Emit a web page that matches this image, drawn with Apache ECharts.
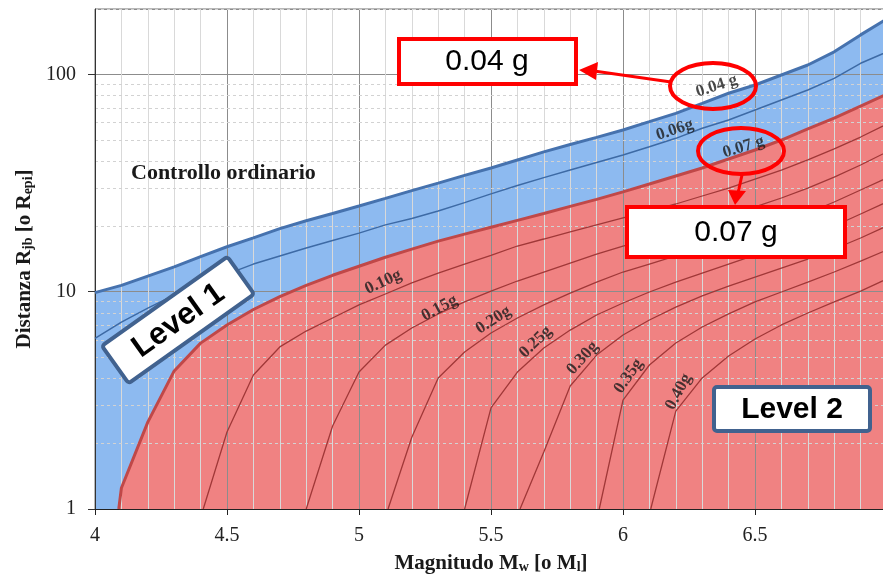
<!DOCTYPE html>
<html><head><meta charset="utf-8">
<script src="https://cdn.jsdelivr.net/npm/echarts@6/dist/echarts.min.js"></script>
<style>html,body{margin:0;padding:0;background:#fff}#c{width:883px;height:577px}</style>
</head><body><div id="c"></div>
<script>
// ---- data (Magnitudo Mw, Distanza km) ----
const xTicks = [4, 4.5, 5, 5.5, 6, 6.5, 7];
const yTicks = [1, 10, 100];
const yMinorTicks = [2,3,4,5,6,7,8,9,20,30,40,50,60,70,80,90,200];

const line004 = [[4.0,9.9],[4.1,10.7],[4.2,11.8],[4.3,13.0],[4.4,14.5],[4.5,16.1],[4.6,17.7],[4.7,19.5],[4.8,21.2],[4.9,22.9],[5.0,24.8],[5.1,26.9],[5.2,29.2],[5.3,31.6],[5.4,34.3],[5.5,37.1],[5.6,40.4],[5.7,44.0],[5.8,47.6],[5.9,51.3],[6.0,55.5],[6.1,60.6],[6.2,66.2],[6.3,73.6],[6.4,81.9],[6.5,89.4],[6.6,99.4],[6.7,110.5],[6.8,127],[6.9,152],[7.0,180]];
const line006 = [[4.0,6.1],[4.1,7.25],[4.2,8.4],[4.3,9.65],[4.4,10.85],[4.5,12.05],[4.6,13.4],[4.7,14.6],[4.8,15.9],[4.9,17.2],[5.0,18.6],[5.1,20.3],[5.2,21.7],[5.3,23.5],[5.4,25.7],[5.5,28.2],[5.6,30.8],[5.7,33.5],[5.8,36.3],[5.9,39.3],[6.0,42.6],[6.1,46.5],[6.2,50.8],[6.3,56.5],[6.4,61.7],[6.5,68.6],[6.6,76.3],[6.7,84.8],[6.8,95.9],[6.9,112.5],[7.0,127]];
const line007 = [[4.09,1],[4.1,1.25],[4.2,2.51],[4.3,4.32],[4.4,5.8],[4.5,7.03],[4.6,8.28],[4.7,9.5],[4.8,10.7],[4.9,11.9],[5.0,13.1],[5.1,14.4],[5.2,15.7],[5.3,17.1],[5.4,18.4],[5.5,19.8],[5.6,21.3],[5.7,22.9],[5.8,24.7],[5.9,26.6],[6.0,28.8],[6.1,31.3],[6.2,34.1],[6.3,37.1],[6.4,40.8],[6.5,44.9],[6.6,49.9],[6.7,56.1],[6.8,63.0],[6.9,71.5],[7.0,81.3]];
const line010 = [[4.41,1],[4.5,2.26],[4.6,4.14],[4.7,5.57],[4.8,6.59],[4.9,7.57],[5.0,8.69],[5.1,9.76],[5.2,10.97],[5.3,12.19],[5.4,13.41],[5.5,14.7],[5.6,16.23],[5.7,17.48],[5.8,18.83],[5.9,20.28],[6.0,21.84],[6.1,23.51],[6.2,25.33],[6.3,27.57],[6.4,30.0],[6.5,33.0],[6.6,36.3],[6.7,40.4],[6.8,45.4],[6.9,51.5],[7.0,59.1]];
const line015 = [[4.8,1],[4.9,2.41],[5.0,4.27],[5.1,5.68],[5.2,6.81],[5.3,7.9],[5.4,8.97],[5.5,10.07],[5.6,11.2],[5.7,12.32],[5.8,13.55],[5.9,14.91],[6.0,16.23],[6.1,17.48],[6.2,18.83],[6.3,20.49],[6.4,22.31],[6.5,24.54],[6.6,26.99],[6.7,30.0],[6.8,33.7],[6.9,38.3],[7.0,44.0]];
const line020 = [[5.11,1],[5.2,2.14],[5.3,4.01],[5.4,5.28],[5.5,6.46],[5.6,7.57],[5.7,8.69],[5.8,9.86],[5.9,11.08],[6.0,12.32],[6.1,13.41],[6.2,14.6],[6.3,15.89],[6.4,17.29],[6.5,18.83],[6.6,20.71],[6.7,23.02],[6.8,25.87],[6.9,29.38],[7.0,33.37]];
const line025 = [[5.4,1],[5.5,2.92],[5.6,4.27],[5.7,5.51],[5.8,6.66],[5.9,7.81],[6.0,8.87],[6.1,9.97],[6.2,11.08],[6.3,12.19],[6.4,13.41],[6.5,14.75],[6.6,16.23],[6.7,18.05],[6.8,20.06],[6.9,22.79],[7.0,25.87]];
const line030 = [[5.61,1],[5.7,1.83],[5.8,3.68],[5.9,5.11],[6.0,6.32],[6.1,7.41],[6.2,8.5],[6.3,9.56],[6.4,10.62],[6.5,11.68],[6.6,12.85],[6.7,14.14],[6.8,15.72],[6.9,17.67],[7.0,20.06]];
const line035 = [[5.91,1],[6.0,3.17],[6.1,4.6],[6.2,5.81],[6.3,6.88],[6.4,7.9],[6.5,8.97],[6.6,9.97],[6.7,11.08],[6.8,12.32],[6.9,13.84],[7.0,15.56]];
const line040 = [[6.105,1],[6.2,2.82],[6.3,4.01],[6.4,5.06],[6.5,6.06],[6.6,7.03],[6.7,7.98],[6.8,8.97],[6.9,10.07],[7.0,11.44]];

const labelText = ['0.04 g','0.06g','0.07 g','0.10g','0.15g','0.20g','0.25g','0.30g','0.35g','0.40g'];
const labelM    = [6.355, 6.196, 6.457, 5.092, 5.305, 5.509, 5.669, 5.847, 6.021, 6.211];
const labelR    = [88.4, 55.5, 46.3, 11.08, 8.41, 7.41, 5.87, 4.95, 4.09, 3.46];
const labelAngle = [18, 18, 17, 25, 28, 33, 44, 48, 55, 62];

// ---- styles ----
const SERIF = 'Liberation Serif, serif';
const fillBlue = '#8dbaf0', fillRed = '#f08282';
const contourColor = '#a03838';

const chart = echarts.init(document.getElementById('c'), null, {renderer: 'canvas'});

function lineSeries(data, color, width, z) {
  return {type: 'line', data: data, symbol: 'none', silent: true, z: z,
          lineStyle: {color: color, width: width}};
}
function areaSeries(data, color) {
  return {type: 'line', data: data, symbol: 'none', silent: true, z: 1,
          lineStyle: {width: 0, opacity: 0},
          areaStyle: {color: color, opacity: 1, origin: 'start'}};
}

const nameRich = {
  a: {fontFamily: SERIF, fontWeight: 'bold', fontSize: 21, color: '#1a1a1a'},
  s: {fontFamily: SERIF, fontWeight: 'bold', fontSize: 14, color: '#1a1a1a', verticalAlign: 'bottom', padding: [7, 0, 0, 0]}
};

const option = {
  animation: false,
  backgroundColor: '#ffffff',
  grid: {left: 95, top: 9, width: 792, height: 500, show: true, borderColor: '#707070', borderWidth: 1,
         backgroundColor: '#ffffff', containLabel: false, outerBoundsMode: 'none'},
  xAxis: [
    {type: 'value', min: 4, max: 7, interval: 0.1, z: 2,
     axisLine: {show: false}, axisTick: {show: false}, axisLabel: {show: false},
     splitLine: {show: true, lineStyle: {color: '#d9d9d9', width: 1}}},
    {type: 'value', min: 4, max: 7, interval: 0.5, position: 'bottom', z: 2,
     axisLine: {show: true, onZero: false, lineStyle: {color: '#222', width: 1}},
     axisTick: {show: true, length: 6, lineStyle: {color: '#222'}},
     axisLabel: {show: true, margin: 17, fontFamily: SERIF, fontSize: 20, color: '#222', hideOverlap: false,
                 formatter: v => xTicks.some(t => Math.abs(t - v) < 1e-6) ? String(+v.toFixed(1)) : ''},
     splitLine: {show: true, lineStyle: {color: '#8c8c8c', width: 1}},
     name: '{a|Magnitudo M}{s|w}{a| [o M}{s|l}{a|]}', nameLocation: 'middle', nameGap: 44,
     nameTextStyle: {rich: nameRich}}
  ],
  yAxis: {type: 'log', logBase: 10, min: 1, max: 200, z: 2,
    axisLine: {show: true, onZero: false, lineStyle: {color: '#333', width: 1}},
    axisTick: {show: true, length: 7, lineStyle: {color: '#333'}},
    axisLabel: {show: true, margin: 19, fontFamily: SERIF, fontSize: 20, color: '#222', showMaxLabel: false,
                formatter: v => yTicks.some(t => Math.abs(t - v) / t < 1e-6) ? String(Math.round(v)) : ''},
    splitLine: {show: true, lineStyle: {color: '#8c8c8c', width: 1}},
    name: '{a|Distanza R}{s|jb}{a| [o R}{s|epi}{a|]}', nameLocation: 'middle', nameRotate: 90, nameGap: 50,
    nameTextStyle: {rich: nameRich}},
  series: [
    areaSeries(line004, fillBlue),
    areaSeries(line007, fillRed),
    {type: 'line', data: [[4, 1]], symbol: 'none', silent: true, z: 2, lineStyle: {width: 0},
     markLine: {silent: true, symbol: 'none', z: 2, animation: false, label: {show: false},
                lineStyle: {type: [3, 3], color: '#d2d2d2', width: 1},
                data: yMinorTicks.map(v => ({yAxis: v}))}},
    lineSeries(line004, '#4672ae', 3, 4),
    lineSeries(line006, '#3d6aa5', 1.5, 4),
    lineSeries(line007, '#c04848', 3, 4),
    lineSeries(line010, contourColor, 1.3, 3),
    lineSeries(line015, contourColor, 1.3, 3),
    lineSeries(line020, contourColor, 1.3, 3),
    lineSeries(line025, contourColor, 1.3, 3),
    lineSeries(line030, contourColor, 1.3, 3),
    lineSeries(line035, contourColor, 1.3, 3),
    lineSeries(line040, contourColor, 1.3, 3),
    {type: 'scatter', silent: true, z: 5, symbol: 'circle', symbolSize: 1,
     itemStyle: {color: 'transparent'},
     label: {show: true, position: 'inside', formatter: p => p.name,
             fontFamily: SERIF, fontWeight: 'bold', fontSize: 17, color: '#1a1a1a'},
     data: labelText.map((t, i) => ({name: t, value: [labelM[i], labelR[i]], label: {rotate: labelAngle[i]}}))}
  ],
  graphic: [
    {type: 'text', x: 131, y: 173, z: 10, style: {text: 'Controllo ordinario', font: 'bold 22px "Liberation Serif"', fill: '#1a1a1a', align: 'left', verticalAlign: 'middle', textAlign: 'left', textVerticalAlign: 'middle'}},
    // 0.04 g callout
    {type: 'ellipse', z: 10, shape: {cx: 713, cy: 86, rx: 43, ry: 23}, style: {fill: 'none', stroke: '#ff0000', lineWidth: 4}},
    {type: 'line', z: 10, shape: {x1: 671, y1: 82, x2: 594, y2: 71}, style: {stroke: '#ff0000', lineWidth: 3}},
    {type: 'polygon', z: 10, shape: {points: [[579, 70], [598, 62], [596, 80]]}, style: {fill: '#ff0000'}},
    {type: 'rect', z: 10, shape: {x: 399, y: 39, width: 177, height: 45}, style: {fill: '#ffffff', stroke: '#ff0000', lineWidth: 4}},
    {type: 'text', z: 11, x: 487, y: 62, style: {text: '0.04 g', font: '30px "Liberation Sans"', fill: '#000', align: 'center', verticalAlign: 'middle', textAlign: 'center', textVerticalAlign: 'middle'}},
    // 0.07 g callout
    {type: 'ellipse', z: 10, shape: {cx: 741, cy: 151, rx: 43, ry: 23}, style: {fill: 'none', stroke: '#ff0000', lineWidth: 4}},
    {type: 'line', z: 10, shape: {x1: 742, y1: 175, x2: 738, y2: 193}, style: {stroke: '#ff0000', lineWidth: 3}},
    {type: 'polygon', z: 10, shape: {points: [[735, 205], [728, 190], [746, 191]]}, style: {fill: '#ff0000'}},
    {type: 'rect', z: 10, shape: {x: 627, y: 207, width: 218, height: 50}, style: {fill: '#ffffff', stroke: '#ff0000', lineWidth: 4}},
    {type: 'text', z: 11, x: 736, y: 233, style: {text: '0.07 g', font: '30px "Liberation Sans"', fill: '#000', align: 'center', verticalAlign: 'middle', textAlign: 'center', textVerticalAlign: 'middle'}},
    // Level 1
    {type: 'group', x: 178, y: 320, rotation: 0.618, z: 10, children: [
      {type: 'rect', z: 10, shape: {x: -77, y: -23, width: 154, height: 46, r: 3}, style: {fill: '#ffffff', stroke: '#41628f', lineWidth: 4}},
      {type: 'text', z: 11, x: 0, y: 1, style: {text: 'Level 1', font: 'bold 31px "Liberation Sans"', fill: '#000', align: 'center', verticalAlign: 'middle', textAlign: 'center', textVerticalAlign: 'middle'}}
    ]},
    // Level 2
    {type: 'rect', z: 10, shape: {x: 714, y: 387, width: 156, height: 44, r: 3}, style: {fill: '#ffffff', stroke: '#41628f', lineWidth: 4}},
    {type: 'text', z: 11, x: 792, y: 410, style: {text: 'Level 2', font: 'bold 30px "Liberation Sans"', fill: '#000', align: 'center', verticalAlign: 'middle', textAlign: 'center', textVerticalAlign: 'middle'}}
  ]
};
chart.setOption(option);
</script>
</body></html>
